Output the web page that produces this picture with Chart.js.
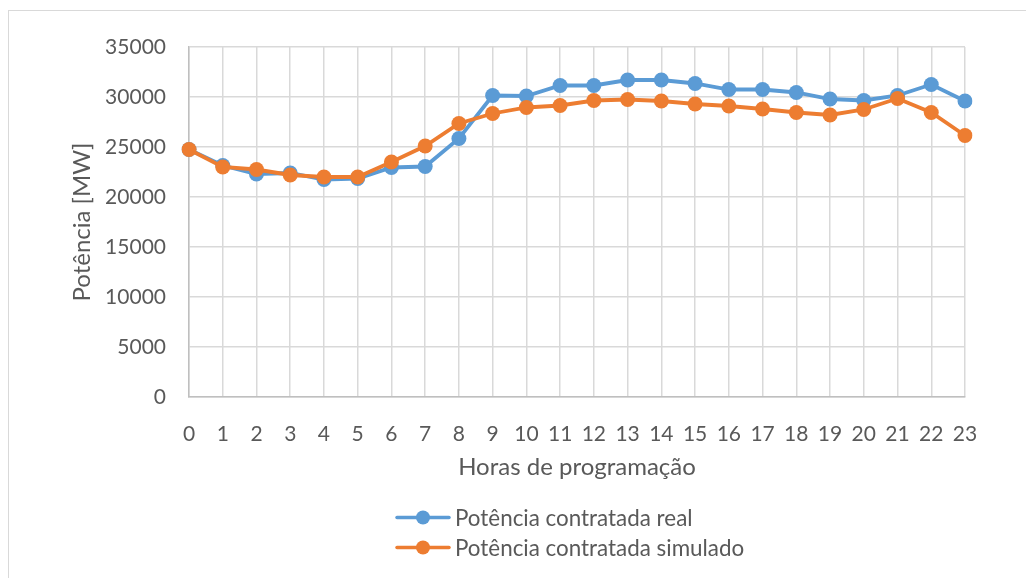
<!DOCTYPE html>
<html>
<head>
<meta charset="utf-8">
<script src="https://cdn.jsdelivr.net/npm/chart.js@4/dist/chart.umd.min.js"></script>
<style>
  html, body { margin: 0; padding: 0; background: #ffffff; }
  #wrap { width: 1026px; height: 578px; position: relative; }
</style>
</head>
<body>
<div id="wrap"><canvas id="chart" width="1026" height="578"></canvas></div>
<script>
// Hourly contracted power, in MW
const hours = ['0','1','2','3','4','5','6','7','8','9','10','11','12','13','14','15','16','17','18','19','20','21','22','23'];
const potenciaReal = [24750, 23150, 22300, 22400, 21750, 21850, 22950, 23050, 25850, 30150, 30100, 31150,
                      31150, 31700, 31700, 31350, 30750, 30750, 30450, 29800, 29650, 30150, 31250, 29600];
const potenciaSimulado = [24750, 23000, 22750, 22200, 22000, 22000, 23500, 25100, 27350, 28350, 28950, 29150,
                          29650, 29750, 29600, 29300, 29100, 28800, 28450, 28200, 28750, 29850, 28450, 26150];
const yTicks = [0, 5000, 10000, 15000, 20000, 25000, 30000, 35000];

const seriesNames = ['Potência contratada real', 'Potência contratada simulado'];
const BLUE = '#5b9bd5';
const ORANGE = '#ed7d31';
const TEXT = '#595959';
const FONT = 'Lato, "Open Sans", sans-serif';

// Light frame around the whole chart
const framePlugin = {
  id: 'frame',
  beforeDraw(chart) {
    const ctx = chart.ctx;
    ctx.save();
    ctx.fillStyle = '#ffffff';
    ctx.fillRect(0, 0, chart.width, chart.height);
    ctx.strokeStyle = '#d9d9d9';
    ctx.lineWidth = 1;
    ctx.strokeRect(8.5, 10.5, 1040, 620);
    ctx.restore();
  }
};

// Stacked legend, one series per row, below the axis title
const stackedLegend = {
  id: 'stackedLegend',
  afterDraw(chart) {
    const ctx = chart.ctx;
    const rows = [517.5, 547.5];
    ctx.save();
    chart.data.datasets.forEach((ds, i) => {
      const y = rows[i];
      ctx.strokeStyle = ds.borderColor;
      ctx.lineWidth = 3.5;
      ctx.lineCap = 'round';
      ctx.beginPath();
      ctx.moveTo(397, y);
      ctx.lineTo(449, y);
      ctx.stroke();
      ctx.fillStyle = ds.backgroundColor;
      ctx.beginPath();
      ctx.arc(423, y, 7, 0, Math.PI * 2);
      ctx.fill();
      ctx.fillStyle = TEXT;
      ctx.font = '22.4px ' + FONT;
      ctx.textBaseline = 'middle';
      ctx.textAlign = 'left';
      ctx.fillText(ds.label, 455, y + 1);
    });
    ctx.restore();
  }
};

const makeSeries = (label, data, color, order) => ({
  label,
  data,
  order,
  borderColor: color,
  backgroundColor: color,
  borderWidth: 3.8,
  pointRadius: 7.5,
  pointHoverRadius: 7.5,
  pointBorderWidth: 0,
  pointBackgroundColor: color,
  tension: 0,
  fill: false
});

new Chart(document.getElementById('chart'), {
  type: 'line',
  data: {
    labels: hours,
    datasets: [
      makeSeries(seriesNames[0], potenciaReal, BLUE, 1),
      makeSeries(seriesNames[1], potenciaSimulado, ORANGE, 0)
    ]
  },
  options: {
    responsive: false,
    animation: false,
    events: [],
    layout: { padding: { left: 0, top: 47, right: 61, bottom: 96.6 } },
    plugins: {
      legend: { display: false },
      tooltip: { enabled: false }
    },
    scales: {
      x: {
        type: 'category',
        offset: false,
        grid: { color: '#d9d9d9', lineWidth: 1.5, drawTicks: false },
        border: { color: '#bfbfbf', width: 1.5 },
        ticks: { color: TEXT, font: { family: FONT, size: 21 }, padding: 25, maxRotation: 0, autoSkip: false },
        title: { display: true, text: 'Horas de programação', color: TEXT,
                 font: { family: FONT, size: 24 }, padding: { top: 0, bottom: 0 } },
        afterFit(scale) { scale.height = 84.4; }
      },
      y: {
        min: 0,
        max: 35000,
        afterBuildTicks(scale) { scale.ticks = yTicks.map(v => ({ value: v })); },
        grid: { color: '#d9d9d9', lineWidth: 1.5, drawTicks: false },
        border: { color: '#bfbfbf', width: 1.5 },
        ticks: { color: TEXT, font: { family: FONT, size: 21 }, padding: 23, callback: v => String(v) },
        title: { display: true, text: 'Potência [MW]', color: TEXT,
                 font: { family: FONT, size: 24 }, padding: { top: 68, bottom: 0 } },
        afterFit(scale) { scale.width = 189; }
      }
    }
  },
  plugins: [framePlugin, stackedLegend]
});
</script>
</body>
</html>
